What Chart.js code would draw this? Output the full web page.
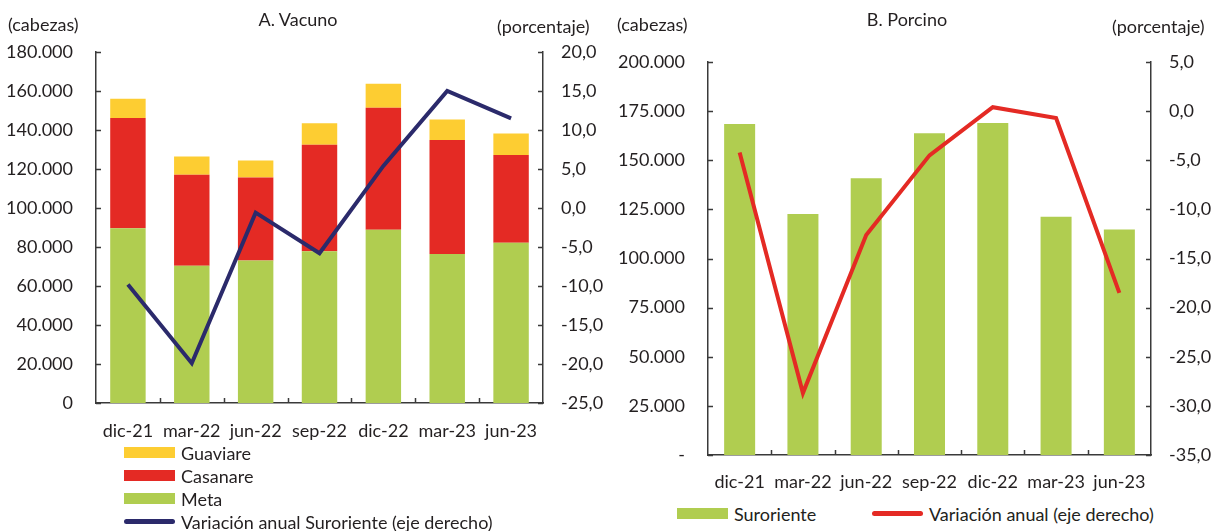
<!DOCTYPE html>
<html>
<head>
<meta charset="utf-8">
<script src="https://cdn.jsdelivr.net/npm/chart.js@4"></script>
<style>
  body { margin: 0; background: #fff; font-family: Lato, sans-serif; color: #231f20; }
  #wrap { position: relative; width: 1215px; height: 531px; overflow: hidden; }
  canvas { position: absolute; top: 0; }
  #vacunoChart { left: 0; }
  #porcinoChart { left: 600px; }
  .txt { position: absolute; font-size: 18px; line-height: 22px; white-space: nowrap; }
  .legend { position: absolute; font-size: 18px; }
  .item { display: flex; align-items: center; height: 23px; white-space: nowrap; }
  .box { display: inline-block; width: 51px; height: 11px; margin-right: 6px; }
  .line { display: inline-block; width: 51px; height: 5px; border-radius: 3px; margin-right: 6px; }
</style>
</head>
<body>
<div id="wrap">
  <canvas id="vacunoChart" width="615" height="445"></canvas>
  <canvas id="porcinoChart" width="615" height="495"></canvas>

  <div class="txt" style="left:8px;top:13px">(cabezas)</div>
  <div class="txt" style="left:298px;top:8px;transform:translateX(-50%)">A. Vacuno</div>
  <div class="txt" style="left:497px;top:15px">(porcentaje)</div>

  <div class="txt" style="left:617px;top:13px">(cabezas)</div>
  <div class="txt" style="left:907px;top:8px;transform:translateX(-50%)">B. Porcino</div>
  <div class="txt" style="left:1112px;top:15px">(porcentaje)</div>

  <div class="legend" id="legendVacuno" style="left:124px;top:441px"></div>
  <div class="legend" id="legendPorcino1" style="left:677px;top:502px"></div>
  <div class="legend" id="legendPorcino2" style="left:872px;top:502px"></div>
</div>

<script>
// ---------- datos ----------
const periods = ["dic-21", "mar-22", "jun-22", "sep-22", "dic-22", "mar-23", "jun-23"];

// A. Vacuno (cabezas)
const meta      = [89600, 70400, 73100, 77800, 88900, 76400, 82200];
const casanare  = [56600, 46700, 42600, 54600, 62500, 58500, 45000];
const guaviare  = [9800, 9300, 8600, 11100, 12300, 10500, 11000];
const varVacuno = [-9.8, -19.9, -0.6, -5.8, 5.4, 15.0, 11.5];

// B. Porcino (cabezas)
const suroriente = [168400, 122600, 140800, 163800, 169000, 121300, 114800];
const varPorcino = [-4.2, -28.7, -12.6, -4.5, 0.4, -0.7, -18.5];

// colores
const YELLOW = "#fdcd32";
const RED = "#e42a24";
const GREEN = "#b0cd50";
const NAVY = "#2b2a6b";
const AXIS = "#3a3a3a";

const tickFont = { family: "Lato", size: 18 };

function miles(v) {
  return String(v).replace(/\B(?=(\d{3})+(?!\d))/g, ".");
}
function pct(v) {
  return v.toFixed(1).replace(".", ",");
}

// marcas hacia adentro en los ejes
const insideTicks = {
  id: "insideTicks",
  afterDraw(chart) {
    const ctx = chart.ctx;
    const area = chart.chartArea;
    ctx.save();
    ctx.strokeStyle = AXIS;
    ctx.lineWidth = 1.5;
    ctx.beginPath();
    const x = chart.scales.x;
    const n = chart.data.labels.length;
    const step = (x.right - x.left) / n;
    for (let i = 1; i < n; i++) {
      const px = Math.round(x.left + i * step) + 0.5;
      ctx.moveTo(px, area.bottom);
      ctx.lineTo(px, area.bottom - 5);
    }
    ["y", "y1"].forEach(id => {
      const s = chart.scales[id];
      s.ticks.forEach((t, i) => {
        const py = Math.round(s.getPixelForTick(i)) + 0.5;
        if (s.position === "left") {
          ctx.moveTo(area.left, py);
          ctx.lineTo(area.left + 5, py);
        } else {
          ctx.moveTo(area.right, py);
          ctx.lineTo(area.right - 5, py);
        }
      });
    });
    ctx.stroke();
    ctx.restore();
  }
};

function fixSize(size) {
  return scale => {
    if (scale.isHorizontal()) scale.height = size;
    else scale.width = size;
  };
}

Chart.defaults.font.family = "Lato";
Chart.defaults.color = "#231f20";

// ---------- A. Vacuno ----------
const vacunoChart = new Chart(document.getElementById("vacunoChart"), {
  type: "bar",
  data: {
    labels: periods,
    datasets: [
      { type: "line", label: "Variación anual Suroriente (eje derecho)", data: varVacuno, yAxisID: "y1",
        borderColor: NAVY, borderWidth: 4, pointRadius: 0, tension: 0, order: 0 },
      { label: "Meta", data: meta, backgroundColor: GREEN, yAxisID: "y", order: 1 },
      { label: "Casanare", data: casanare, backgroundColor: RED, yAxisID: "y", order: 1 },
      { label: "Guaviare", data: guaviare, backgroundColor: YELLOW, yAxisID: "y", order: 1 }
    ]
  },
  options: {
    responsive: false,
    animation: false,
    layout: { padding: { top: 52, left: 0, right: 0 } },
    datasets: { bar: { barPercentage: 0.555, categoryPercentage: 1 } },
    plugins: { legend: { display: false }, tooltip: { enabled: false } },
    scales: {
      x: {
        stacked: true,
        grid: { display: false },
        border: { display: true, color: AXIS, width: 1.5 },
        ticks: { font: tickFont, padding: 9, maxRotation: 0, autoSkip: false },
        afterFit: fixSize(42)
      },
      y: {
        stacked: true, position: "left", min: 0, max: 180000,
        grid: { display: false, drawTicks: false },
        border: { display: true, color: AXIS, width: 1.5 },
        ticks: { font: tickFont, padding: 23, stepSize: 20000, callback: v => miles(v) },
        afterFit: fixSize(96)
      },
      y1: {
        position: "right", min: -25, max: 20,
        grid: { display: false, drawTicks: false },
        border: { display: true, color: AXIS, width: 1.5 },
        ticks: { font: tickFont, padding: 18, stepSize: 5, callback: v => pct(v) },
        afterFit: fixSize(72)
      }
    }
  },
  plugins: [insideTicks]
});

// ---------- B. Porcino ----------
const porcinoChart = new Chart(document.getElementById("porcinoChart"), {
  type: "bar",
  data: {
    labels: periods,
    datasets: [
      { type: "line", label: "Variación anual (eje derecho)", data: varPorcino, yAxisID: "y1",
        borderColor: RED, borderWidth: 4, pointRadius: 0, tension: 0, order: 0 },
      { label: "Suroriente", data: suroriente, backgroundColor: GREEN, yAxisID: "y", order: 1 }
    ]
  },
  options: {
    responsive: false,
    animation: false,
    layout: { padding: { top: 62 } },
    datasets: { bar: { barPercentage: 0.49, categoryPercentage: 1 } },
    plugins: { legend: { display: false }, tooltip: { enabled: false } },
    scales: {
      x: {
        grid: { display: false },
        border: { display: true, color: AXIS, width: 1.5 },
        ticks: { font: tickFont, padding: 8, maxRotation: 0, autoSkip: false },
        afterFit: fixSize(40)
      },
      y: {
        position: "left", min: 0, max: 200000,
        grid: { display: false, drawTicks: false },
        border: { display: true, color: AXIS, width: 1.5 },
        ticks: { font: tickFont, padding: 23, stepSize: 25000, callback: v => v === 0 ? "-" : miles(v) },
        afterFit: fixSize(108)
      },
      y1: {
        position: "right", min: -35, max: 5,
        grid: { display: false, drawTicks: false },
        border: { display: true, color: AXIS, width: 1.5 },
        ticks: { font: tickFont, padding: 18, stepSize: 5, callback: v => pct(v) },
        afterFit: fixSize(64)
      }
    }
  },
  plugins: [insideTicks]
});

// ---------- leyendas ----------
function legendItem(ds) {
  const isLine = ds.type === "line";
  const color = isLine ? ds.borderColor : ds.backgroundColor;
  return `<div class="item"><span class="${isLine ? "line" : "box"}" style="background:${color}"></span>${ds.label}</div>`;
}

const vDs = vacunoChart.data.datasets;
document.getElementById("legendVacuno").innerHTML =
  [vDs[3], vDs[2], vDs[1], vDs[0]].map(legendItem).join("");

const pDs = porcinoChart.data.datasets;
document.getElementById("legendPorcino1").innerHTML = legendItem(pDs[1]);
document.getElementById("legendPorcino2").innerHTML = legendItem(pDs[0]);
</script>
</body>
</html>
